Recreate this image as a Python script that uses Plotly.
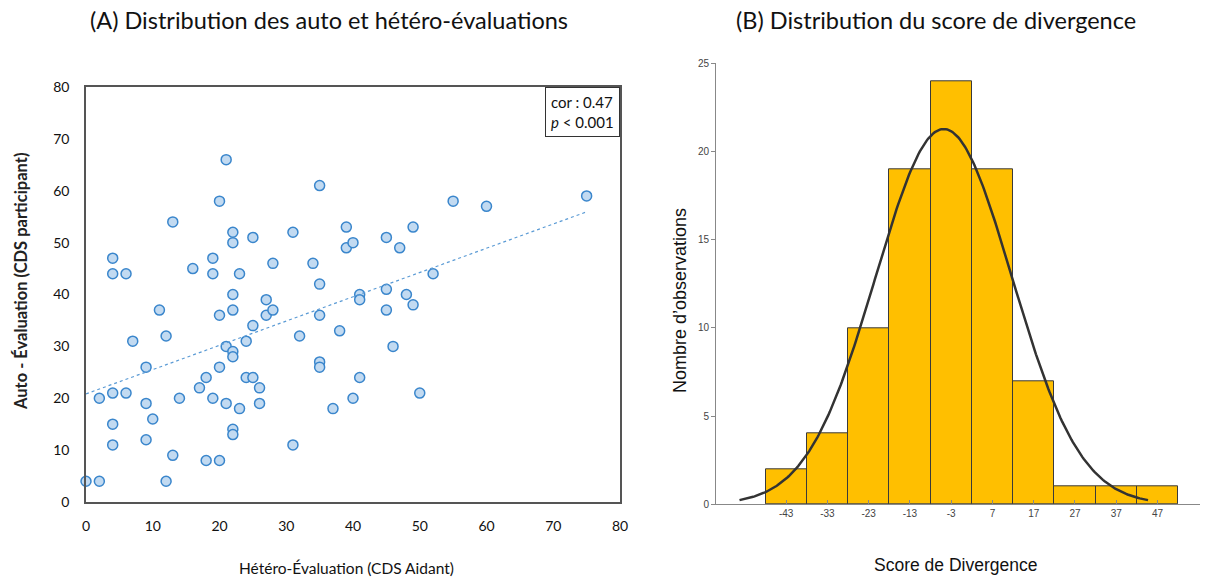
import numpy as np
import plotly.graph_objects as go

# ---- Panel A data: hetero (x) vs auto (y) evaluations ----
hetero = [0, 2, 2, 4, 4, 6, 4, 6, 4, 4, 7, 9, 9, 10, 9, 11, 12, 13, 13, 12, 14, 16, 17, 18, 18,
          19, 19, 19, 20, 20, 20, 20, 21, 21, 21, 22, 22, 22, 22, 22, 22, 22, 22, 23, 23, 24, 24,
          25, 25, 25, 26, 26, 27, 27, 28, 28, 31, 31, 32, 34, 35, 35, 35, 35, 35, 37, 38, 39, 39,
          40, 40, 41, 41, 41, 45, 45, 45, 46, 47, 48, 49, 49, 50, 52, 55, 60, 75]
auto = [4, 4, 20, 47, 44, 44, 21, 21, 15, 11, 31, 26, 19, 16, 12, 37, 32, 54, 9, 4, 20, 45, 22, 24, 8,
        47, 44, 20, 58, 36, 26, 8, 66, 30, 19, 52, 50, 40, 37, 29, 28, 14, 13, 44, 18, 31, 24,
        51, 34, 24, 22, 19, 39, 36, 46, 37, 52, 11, 32, 46, 61, 42, 36, 27, 26, 18, 33, 53, 49,
        50, 20, 40, 39, 24, 51, 41, 37, 30, 49, 40, 53, 38, 21, 44, 58, 57, 59]

# ---- Panel B data: divergence score histogram ----
bin_centers = [-43, -33, -23, -13, -3, 7, 17, 27, 37, 47]
bin_labels = ["-43", "-33", "-23", "-13", "-3", "7", "17", "27", "37", "47"]
bin_counts = [2, 4, 10, 19, 24, 19, 7, 1, 1, 1]
bin_width = 10
fit_mean = -4.8
fit_sd = 16.5

A_xticks = [0, 10, 20, 30, 40, 50, 60, 70, 80]
A_yticks = [0, 10, 20, 30, 40, 50, 60, 70, 80]
B_yticks = [0, 5, 10, 15, 20, 25]

W, H = 1213, 581
def px(x):
    return x / W
def py(y):
    return 1 - y / H

fig = go.Figure()

# scatter points
fig.add_trace(go.Scatter(
    x=hetero, y=auto, mode="markers", xaxis="x", yaxis="y",
    marker=dict(size=10, color="#C2DAF1", line=dict(color="#3A86CC", width=1.5)),
    cliponaxis=False, showlegend=False))

# regression line
slope, intercept = np.polyfit(hetero, auto, 1)
xl = np.array([min(hetero), max(hetero)])
fig.add_trace(go.Scatter(
    x=xl, y=slope * xl + intercept, mode="lines", xaxis="x", yaxis="y",
    line=dict(color="#5B9BD5", width=1.2, dash="dot"), showlegend=False))

# histogram bars
fig.add_trace(go.Bar(
    x=bin_centers, y=bin_counts, width=bin_width, xaxis="x2", yaxis="y2",
    marker=dict(color="#FFBF00", line=dict(color="#3A3A3A", width=1)),
    showlegend=False))

# fitted normal curve
total = sum(bin_counts)
xc = np.linspace(fit_mean - 49.5, fit_mean + 49.5, 300)
yc = total * bin_width / (fit_sd * np.sqrt(2 * np.pi)) * np.exp(-0.5 * ((xc - fit_mean) / fit_sd) ** 2)
fig.add_trace(go.Scatter(
    x=xc, y=yc, mode="lines", xaxis="x2", yaxis="y2",
    line=dict(color="#333333", width=2.5), showlegend=False))

fontA = "Lato, 'Open Sans', sans-serif"
fontB = "'Liberation Sans', Arial, sans-serif"

fig.update_layout(
    width=W, height=H,
    margin=dict(l=0, r=0, t=0, b=0, pad=0),
    paper_bgcolor="white", plot_bgcolor="white",
    bargap=0,
    xaxis=dict(domain=[px(86), px(620)], range=[0, 80], tickvals=A_xticks, automargin=False,
               showgrid=False, zeroline=False, showline=True, mirror=True,
               linecolor="#555555", linewidth=1.5, ticks="", ticklabelstandoff=10,
               tickfont=dict(family=fontA, size=14, color="#111111"), anchor="y"),
    yaxis=dict(domain=[py(502), py(87)], range=[0, 80], tickvals=A_yticks, automargin=False,
               showgrid=False, zeroline=False, showline=True, mirror=True,
               linecolor="#555555", linewidth=1.5, ticks="", ticklabelstandoff=12,
               tickfont=dict(family=fontA, size=14, color="#111111"), anchor="x"),
    xaxis2=dict(domain=[px(716), px(1200)], range=[-60, 57.3], tickvals=bin_centers,
                ticktext=bin_labels, automargin=False,
                showgrid=False, zeroline=False, showline=True, linecolor="#888888",
                linewidth=1, ticks="inside", ticklen=4, tickcolor="#888888",
                tickfont=dict(family=fontB, size=10, color="#444444"), anchor="y2"),
    yaxis2=dict(domain=[py(504.3), py(63.3)], range=[0, 25], tickvals=B_yticks, automargin=False,
                showgrid=False, zeroline=False, showline=True, linecolor="#888888",
                linewidth=1, ticks="outside", ticklen=4, tickcolor="#888888",
                tickfont=dict(family=fontB, size=10, color="#444444"), anchor="x2"),
)

annotations = [
    dict(text="(A) Distribution des auto et hétéro-évaluations", x=px(329), y=py(20),
         xref="paper", yref="paper", showarrow=False, xanchor="center", yanchor="middle",
         font=dict(family=fontA, size=23.5, color="#111111")),
    dict(text="(B) Distribution du score de divergence", x=px(936), y=py(20),
         xref="paper", yref="paper", showarrow=False, xanchor="center", yanchor="middle",
         font=dict(family=fontA, size=23.5, color="#111111")),
    dict(text="Hétéro-Évaluation (CDS Aidant)", x=px(346), y=py(568),
         xref="paper", yref="paper", showarrow=False, xanchor="center", yanchor="middle",
         font=dict(family=fontA, size=15.5, color="#111111")),
    dict(text="<b>Auto - Évaluation (CDS participant)</b>", x=px(21), y=py(282), textangle=-90,
         xref="paper", yref="paper", showarrow=False, xanchor="center", yanchor="middle",
         font=dict(family=fontA, size=16.5, color="#222222")),
    dict(text="Nombre d’observations", x=px(680), y=py(301), textangle=-90,
         xref="paper", yref="paper", showarrow=False, xanchor="center", yanchor="middle",
         font=dict(family=fontB, size=18, color="#111111")),
    dict(text="Score de Divergence", x=px(955), y=py(565),
         xref="paper", yref="paper", showarrow=False, xanchor="center", yanchor="middle",
         font=dict(family=fontB, size=17.5, color="#111111")),
    dict(text="cor : 0.47<br><i>p</i> < 0.001", x=1, y=1, xref="x domain", yref="y domain",
         showarrow=False, xanchor="right", yanchor="top", align="left",
         bordercolor="#333333", borderwidth=1, borderpad=5, bgcolor="white",
         font=dict(family=fontA, size=15, color="#111111")),
]
fig.update_layout(annotations=annotations)

fig.write_html("out.html", config={"displayModeBar": False},
               post_script="document.body.style.margin='0';document.body.style.overflow='hidden';")
